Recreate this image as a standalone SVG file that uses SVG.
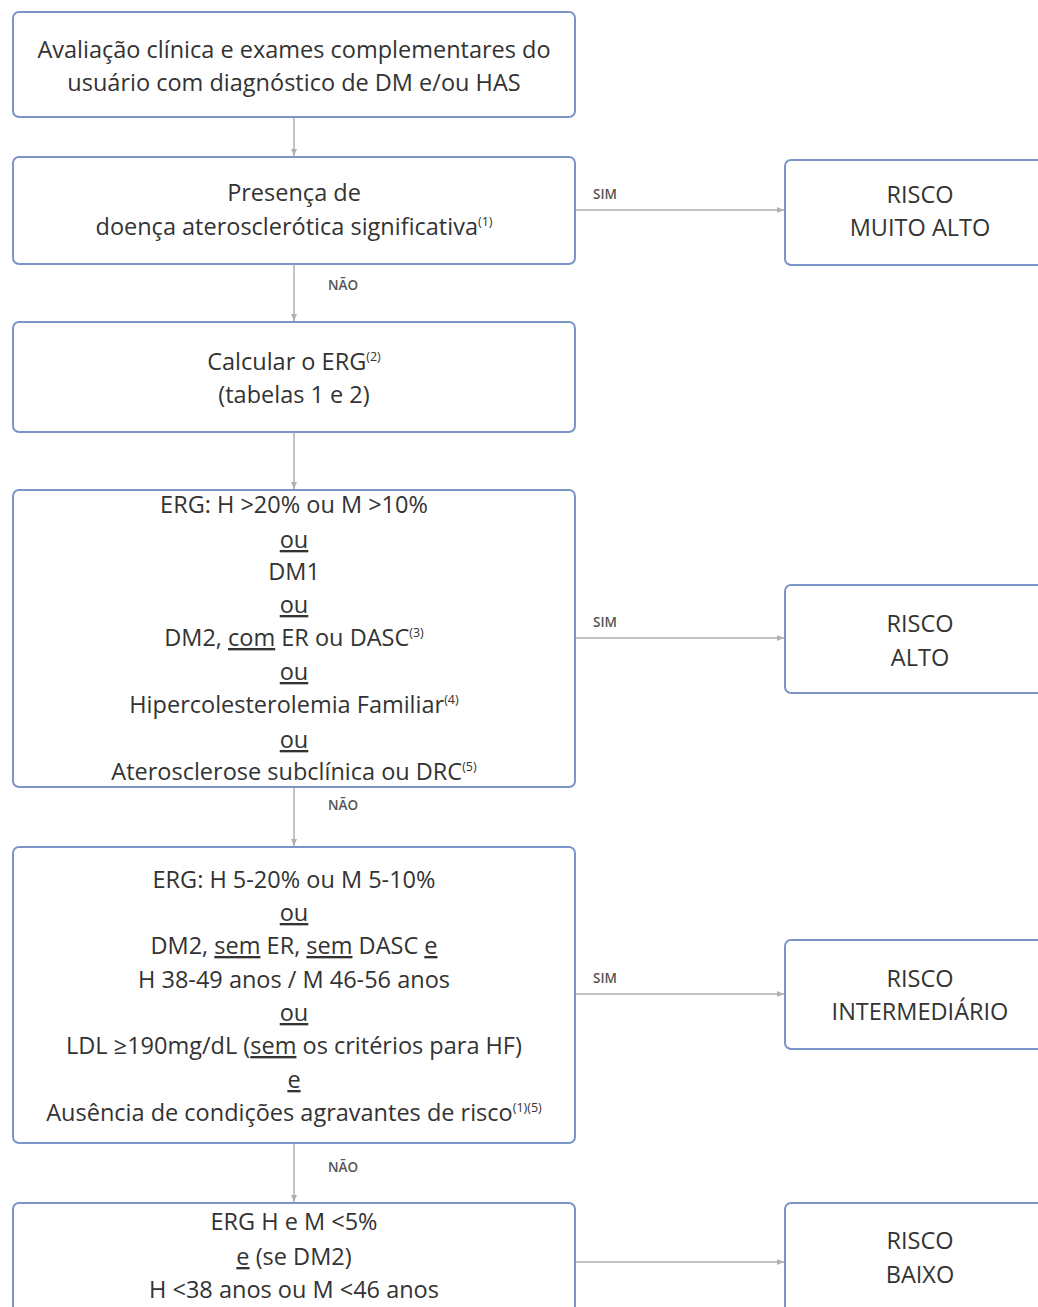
<svg xmlns="http://www.w3.org/2000/svg" width="1038" height="1307" viewBox="0 0 1038 1307">
<style>
.box{fill:#fff;stroke:#7b95c8;stroke-width:2}
.t{font-family:"Open Sans","Liberation Sans",Arial,sans-serif;font-size:23.5px;fill:#333;text-anchor:middle}
.lbl{font-family:"Open Sans","Liberation Sans",Arial,sans-serif;font-size:13.5px;font-weight:600;fill:#555}
.u{text-decoration:underline}
.sup{font-size:12.5px}
.c{stroke:#b0b0b0;stroke-width:1.5;fill:none}
</style>
<defs>
<marker id="ah" markerWidth="8" markerHeight="8" refX="7" refY="4" orient="auto" markerUnits="userSpaceOnUse">
<path d="M0,1 L7,4 L0,7 Z" fill="#b0b0b0"/>
</marker>
</defs>
<rect width="1038" height="1307" fill="#fff"/>
<g id="connectors">
<line class="c" x1="294" y1="117" x2="294" y2="156" marker-end="url(#ah)"/>
<line class="c" x1="575" y1="210" x2="784" y2="210" marker-end="url(#ah)"/>
<text class="lbl" x="593" y="199">SIM</text>
<line class="c" x1="294" y1="264" x2="294" y2="321" marker-end="url(#ah)"/>
<text class="lbl" x="328" y="290">NÃO</text>
<line class="c" x1="294" y1="432" x2="294" y2="489" marker-end="url(#ah)"/>
<line class="c" x1="575" y1="638" x2="784" y2="638" marker-end="url(#ah)"/>
<text class="lbl" x="593" y="627">SIM</text>
<line class="c" x1="294" y1="787" x2="294" y2="846" marker-end="url(#ah)"/>
<text class="lbl" x="328" y="810">NÃO</text>
<line class="c" x1="575" y1="994" x2="784" y2="994" marker-end="url(#ah)"/>
<text class="lbl" x="593" y="983">SIM</text>
<line class="c" x1="294" y1="1143" x2="294" y2="1202" marker-end="url(#ah)"/>
<text class="lbl" x="328" y="1172">NÃO</text>
<line class="c" x1="575" y1="1262" x2="784" y2="1262" stroke-width="3" marker-end="url(#ah)"/>
</g>
<g id="n1">
<rect class="box" x="13" y="12" width="562" height="105" rx="6"/>
<text class="t" x="294" y="58">Avaliação clínica e exames complementares do</text>
<text class="t" x="294" y="91">usuário com diagnóstico de DM e/ou HAS</text>
</g>
<g id="n2">
<rect class="box" x="13" y="157" width="562" height="107" rx="6"/>
<text class="t" x="294" y="201">Presença de</text>
<text class="t" x="294" y="235">doença aterosclerótica significativa<tspan class="sup" dy="-9">(1)</tspan></text>
</g>
<g id="n3">
<rect class="box" x="785" y="160" width="260" height="105" rx="6"/>
<text class="t" x="920" y="203">RISCO</text>
<text class="t" x="920" y="236">MUITO ALTO</text>
</g>
<g id="n4">
<rect class="box" x="13" y="322" width="562" height="110" rx="6"/>
<text class="t" x="294" y="370">Calcular o ERG<tspan class="sup" dy="-9">(2)</tspan></text>
<text class="t" x="294" y="403">(tabelas 1 e 2)</text>
</g>
<g id="n5">
<rect class="box" x="13" y="490" width="562" height="297" rx="6"/>
<text class="t" x="294" y="513">ERG: H &gt;20% ou M &gt;10%</text>
<text class="t" x="294" y="548"><tspan class="u">ou</tspan></text>
<text class="t" x="294" y="580">DM1</text>
<text class="t" x="294" y="613"><tspan class="u">ou</tspan></text>
<text class="t" x="294" y="646">DM2, <tspan class="u">com</tspan> ER ou DASC<tspan class="sup" dy="-9">(3)</tspan></text>
<text class="t" x="294" y="680"><tspan class="u">ou</tspan></text>
<text class="t" x="294" y="713">Hipercolesterolemia Familiar<tspan class="sup" dy="-9">(4)</tspan></text>
<text class="t" x="294" y="748"><tspan class="u">ou</tspan></text>
<text class="t" x="294" y="780">Aterosclerose subclínica ou DRC<tspan class="sup" dy="-9">(5)</tspan></text>
</g>
<g id="n6">
<rect class="box" x="785" y="585" width="260" height="108" rx="6"/>
<text class="t" x="920" y="632">RISCO</text>
<text class="t" x="920" y="666">ALTO</text>
</g>
<g id="n7">
<rect class="box" x="13" y="847" width="562" height="296" rx="6"/>
<text class="t" x="294" y="888">ERG: H 5-20% ou M 5-10%</text>
<text class="t" x="294" y="921"><tspan class="u">ou</tspan></text>
<text class="t" x="294" y="954">DM2, <tspan class="u">sem</tspan> ER, <tspan class="u">sem</tspan> DASC <tspan class="u">e</tspan></text>
<text class="t" x="294" y="988">H 38-49 anos / M 46-56 anos</text>
<text class="t" x="294" y="1021"><tspan class="u">ou</tspan></text>
<text class="t" x="294" y="1054">LDL ≥190mg/dL (<tspan class="u">sem</tspan> os critérios para HF)</text>
<text class="t" x="294" y="1088"><tspan class="u">e</tspan></text>
<text class="t" x="294" y="1121">Ausência de condições agravantes de risco<tspan class="sup" dy="-9">(1)(5)</tspan></text>
</g>
<g id="n8">
<rect class="box" x="785" y="940" width="260" height="109" rx="6"/>
<text class="t" x="920" y="987">RISCO</text>
<text class="t" x="920" y="1020">INTERMEDIÁRIO</text>
</g>
<g id="n9">
<rect class="box" x="13" y="1203" width="562" height="120" rx="6"/>
<text class="t" x="294" y="1230">ERG H e M &lt;5%</text>
<text class="t" x="294" y="1265"><tspan class="u">e</tspan> (se DM2)</text>
<text class="t" x="294" y="1298">H &lt;38 anos ou M &lt;46 anos</text>
</g>
<g id="n10">
<rect class="box" x="785" y="1203" width="260" height="120" rx="6"/>
<text class="t" x="920" y="1249">RISCO</text>
<text class="t" x="920" y="1283">BAIXO</text>
</g>
</svg>
